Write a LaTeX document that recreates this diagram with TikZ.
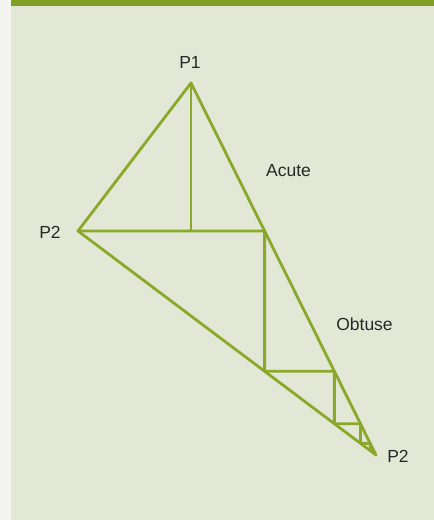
\documentclass[tikz,border=0pt]{standalone}
\usepackage{fontspec}
\setmainfont{Liberation Sans}
\usetikzlibrary{calc}
\definecolor{gline}{RGB}{138,168,42}
\definecolor{gband}{RGB}{130,160,36}
\definecolor{panel}{RGB}{227,231,214}
\definecolor{margin}{RGB}{244,245,240}
\definecolor{txt}{RGB}{40,40,40}
\begin{document}
\begin{tikzpicture}[x=1pt,y=-1pt,
  seg/.style={draw=gline,line width=2.8pt,line cap=round,line join=round},
  lbl/.style={text=txt,font=\fontsize{17.5}{20}\selectfont,inner sep=0pt}]
\useasboundingbox (0,0) rectangle (434,520);
\fill[margin] (0,0) rectangle (434,520);
\fill[panel] (11,0) rectangle (434,520);
\fill[gband] (11,0) rectangle (434,5.5);
% main points
\coordinate (P1) at (191,83);
\coordinate (L) at (78,231);
\coordinate (R) at (376,455);
\coordinate (F) at (P1|-L);
\coordinate (Lh) at ($(L)+(10,0)$);
\coordinate (A1) at (intersection of P1--R and L--Lh);
\coordinate (A1v) at ($(A1)+(0,10)$);
\coordinate (B1) at (intersection of L--R and A1--A1v);
\coordinate (B1h) at ($(B1)+(10,0)$);
\coordinate (A2) at (intersection of P1--R and B1--B1h);
\coordinate (A2v) at ($(A2)+(0,10)$);
\coordinate (B2) at (intersection of L--R and A2--A2v);
\coordinate (B2h) at ($(B2)+(10,0)$);
\coordinate (A3) at (intersection of P1--R and B2--B2h);
\coordinate (A3v) at ($(A3)+(0,10)$);
\coordinate (B3) at (intersection of L--R and A3--A3v);
\coordinate (B3h) at ($(B3)+(10,0)$);
\coordinate (A4) at (intersection of P1--R and B3--B3h);
\coordinate (A4v) at ($(A4)+(0,10)$);
\coordinate (B4) at (intersection of L--R and A4--A4v);
% outer triangle
\draw[seg] (P1) -- (L) -- (R) -- cycle;
\draw[seg] (P1) -- (F);
\draw[seg] (L) -- (A1) -- (B1) -- (A2) -- (B2) -- (A3) -- (B3) -- (A4) -- (B4);
% labels
\node[lbl] (tP1) at (190,62) {P1};
\node[lbl] (tP2a) at (50,232) {P2};
\node[lbl] (tAc) at (288.5,171) {Acute};
\node[lbl] (tOb) at (364.5,324) {Obtuse};
\node[lbl] (tP2b) at (398,456) {P2};
\end{tikzpicture}
\end{document}
